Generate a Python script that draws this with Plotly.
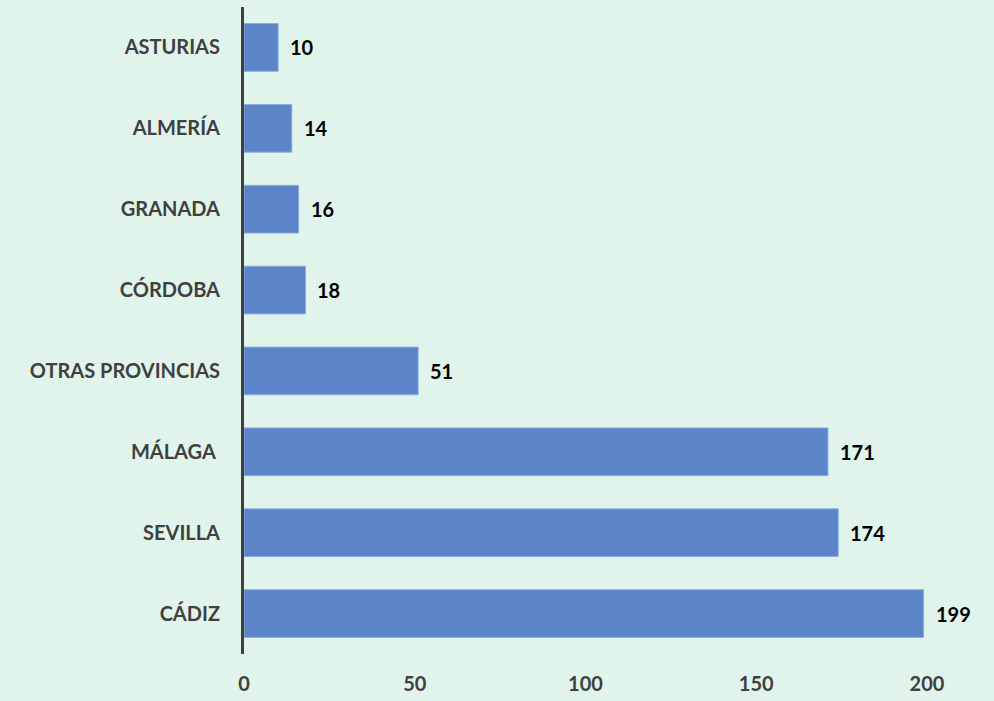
import plotly.graph_objects as go

# categorias de abajo a arriba
provincias = ["CÁDIZ", "SEVILLA", "MÁLAGA\u00a0", "OTRAS PROVINCIAS",
              "CÓRDOBA", "GRANADA", "ALMERÍA", "ASTURIAS"]
valores = [199, 174, 171, 51, 18, 16, 14, 10]
ticks_x = [0, 50, 100, 150, 200]

FONT = "Lato"

fig = go.Figure()
fig.add_trace(go.Bar(
    x=valores, y=provincias, orientation="h",
    marker=dict(color="#5b85c8", line=dict(color="#8eaee0", width=1)),
    hoverinfo="x+y",
))

# etiquetas de valor
for v, p in zip(valores, provincias):
    fig.add_annotation(x=v, y=p, text=str(v), showarrow=False,
                       xanchor="left", xshift=10,
                       font=dict(family=FONT, size=20, color="#000000", weight="bold"))

fig.update_layout(
    width=994, height=701,
    margin=dict(l=244, r=67, t=7, b=47),
    paper_bgcolor="#e1f4eb",
    plot_bgcolor="rgba(0,0,0,0)",
    bargap=0.41,
    showlegend=False,
    font=dict(family=FONT, size=20, color="#404040"),
)
fig.update_xaxes(range=[0, 200], tickvals=ticks_x, showgrid=False, zeroline=False,
                 showline=False, ticklabelstandoff=16, automargin=False,
                 tickfont=dict(family=FONT, size=20, color="#404040", weight="bold"))
fig.update_yaxes(showgrid=False, showline=True, linecolor="#404040", linewidth=3,
                 ticklabelstandoff=17, automargin=False,
                 tickfont=dict(family=FONT, size=20, color="#404040", weight="bold"))

fig.write_html("out.html", config={"displayModeBar": False},
               post_script="document.body.style.margin='0';")
